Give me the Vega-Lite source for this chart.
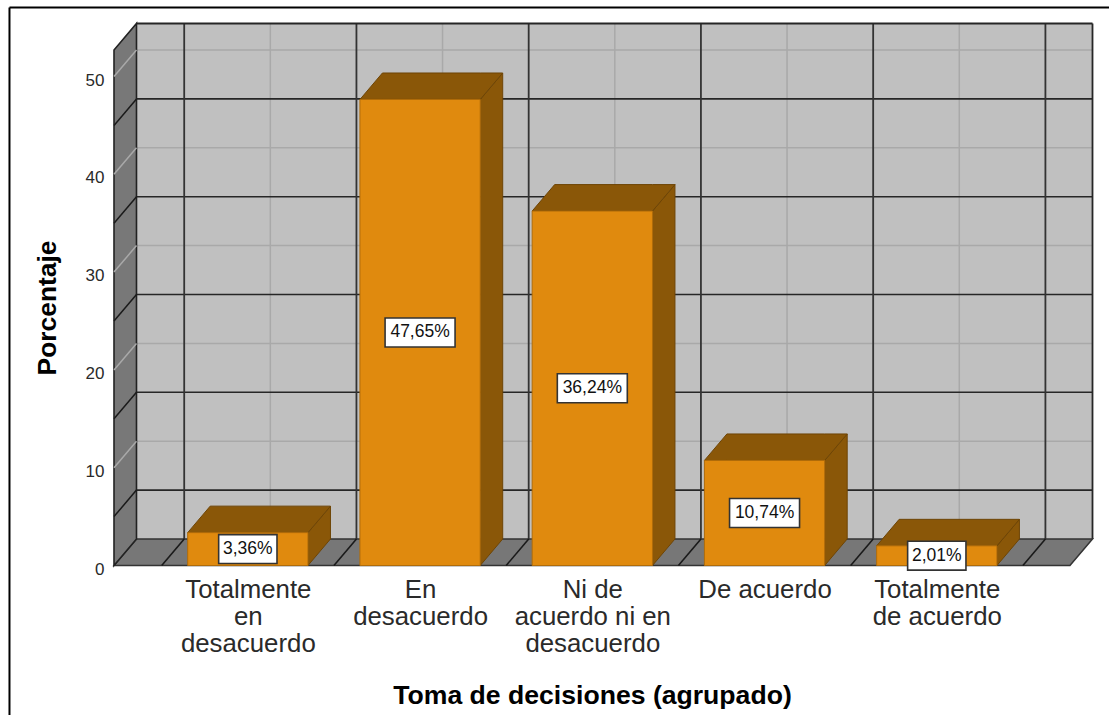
{
"$schema":"https://vega.github.io/schema/vega-lite/v6.json",
"width":978.5,"height":542,
"autosize":{"type":"none"},
"padding":{"left":114,"top":23.5,"right":16.5,"bottom":149.5},
"background":"white",
"config":{"view":{"stroke":null},"font":"Liberation Sans"},
"datasets":{
 "barras":[
  {"categoria":"Totalmente en desacuerdo","orden":0,"porcentaje":3.36},
  {"categoria":"En desacuerdo","orden":1,"porcentaje":47.65},
  {"categoria":"Ni de acuerdo ni en desacuerdo","orden":2,"porcentaje":36.24},
  {"categoria":"De acuerdo","orden":3,"porcentaje":10.74},
  {"categoria":"Totalmente de acuerdo","orden":4,"porcentaje":2.01}
 ],
 "niveles":[{"n":5,"k":"m"},{"n":10,"k":"p"},{"n":15,"k":"m"},{"n":20,"k":"p"},{"n":25,"k":"m"},{"n":30,"k":"p"},{"n":35,"k":"m"},{"n":40,"k":"p"},{"n":45,"k":"m"},{"n":50,"k":"p"}],
 "cortes":[{"c":-0.5},{"c":0.5},{"c":1.5},{"c":2.5},{"c":3.5},{"c":4.5}],
 "centros":[{"c":0},{"c":1},{"c":2},{"c":3},{"c":4}],
 "uno":[{"p":0}],
 "dos":[{"p":0},{"p":1}],
 "cuatro":[{"p":0},{"p":1},{"p":2},{"p":3}]
},
"layer":[
 {"data":{"name":"uno"},"mark":{"type":"rect","fill":"#c0c0c0"},
  "encoding":{
   "x":{"datum":-0.6464,"type":"quantitative","scale":{"domain":[-0.777,4.904],"nice":false,"zero":false},
    "axis":{"values":[0,1,2,3,4],"grid":false,"domain":false,"ticks":false,"labelFontSize":25.8,"labelColor":"#2a2a2a","labelPadding":12,"labelLineHeight":27,"labelOverlap":false,"labelFlush":false,"labelBound":false,"labelBaseline":"top",
     "labelExpr":"[['Totalmente','en','desacuerdo'],['En','desacuerdo'],['Ni de','acuerdo ni en','desacuerdo'],['De acuerdo'],['Totalmente','de acuerdo']][datum.value]",
     "title":"Toma de decisiones (agrupado)","titleFontSize":26.6,"titleFontWeight":"bold","titleColor":"#000000","titleX":478,"titleY":130,"titleBaseline":"middle","titleAlign":"center"}},
   "x2":{"datum":4.904},
   "y":{"datum":2.71,"type":"quantitative","scale":{"domain":[0,55.42],"nice":false,"zero":false},
    "axis":{"values":[0,10,20,30,40,50],"grid":false,"domain":false,"ticks":false,"labelFontSize":17,"labelColor":"#2a2a2a","labelPadding":10,"labelOffset":3.5,
     "title":"Porcentaje","titleFontSize":26.4,"titleFontWeight":"bold","titleColor":"#000000","titleX":-67,"titleY":284,"titleBaseline":"middle","titleAlign":"center","titleAngle":-90}},
   "y2":{"datum":55.42}
  }},
 {"data":{"name":"niveles"},"transform":[{"filter":"datum.k=='p'"},{"calculate":"datum.n+2.71","as":"yb"}],
  "mark":{"type":"rule","stroke":"#a9a9a9","strokeWidth":1.5},
  "encoding":{"x":{"datum":-0.6464,"type":"quantitative"},"x2":{"datum":4.904},"y":{"field":"yb","type":"quantitative"}}},
 {"data":{"name":"centros"},"transform":[{"calculate":"datum.c+0.1306","as":"xb"}],
  "mark":{"type":"rule","stroke":"#a9a9a9","strokeWidth":1.5},
  "encoding":{"x":{"field":"xb","type":"quantitative"},"y":{"datum":2.71,"type":"quantitative"},"y2":{"datum":55.42}}},
 {"data":{"name":"niveles"},"transform":[{"filter":"datum.k=='m'"},{"calculate":"datum.n+2.71","as":"yb"}],
  "mark":{"type":"rule","stroke":"#262626","strokeWidth":1.6},
  "encoding":{"x":{"datum":-0.6464,"type":"quantitative"},"x2":{"datum":4.904},"y":{"field":"yb","type":"quantitative"}}},
 {"data":{"name":"cortes"},"transform":[{"calculate":"datum.c+0.1306","as":"xb"}],
  "mark":{"type":"rule","stroke":"#333333","strokeWidth":1.8},
  "encoding":{"x":{"field":"xb","type":"quantitative"},"y":{"datum":2.71,"type":"quantitative"},"y2":{"datum":55.42}}},
 {"data":{"name":"uno"},"mark":{"type":"rule","stroke":"#262626","strokeWidth":1.8},
  "encoding":{"x":{"datum":-0.6464,"type":"quantitative"},"x2":{"datum":4.904},"y":{"datum":55.42,"type":"quantitative"}}},
 {"data":{"name":"uno"},"mark":{"type":"rule","stroke":"#262626","strokeWidth":1.8},
  "encoding":{"x":{"datum":4.904,"type":"quantitative"},"y":{"datum":2.71,"type":"quantitative"},"y2":{"datum":55.42}}},
 {"data":{"name":"cuatro"},"transform":[
   {"calculate":"[-0.777,-0.6464,4.773,4.904][datum.p]","as":"xa"},
   {"calculate":"[0,2.71,2.71,2.71][datum.p]","as":"ya"},
   {"calculate":"[0,0,0,2.71][datum.p]","as":"yb"}],
  "mark":{"type":"area","fill":"#777777","stroke":"#333333","strokeWidth":1.5},
  "encoding":{"x":{"field":"xa","type":"quantitative"},"y":{"field":"ya","type":"quantitative"},"y2":{"field":"yb"}}},
 {"data":{"name":"cortes"},"transform":[{"calculate":"datum.c+0.1306","as":"xb"}],
  "mark":{"type":"rule","stroke":"#1a1a1a","strokeWidth":1.6},
  "encoding":{"x":{"field":"c","type":"quantitative"},"x2":{"field":"xb"},"y":{"datum":0,"type":"quantitative"},"y2":{"datum":2.71}}},
 {"data":{"name":"dos"},"transform":[
   {"calculate":"-0.777+datum.p*0.1306","as":"xa"},
   {"calculate":"datum.p*2.71","as":"ya"},
   {"calculate":"52.71+datum.p*2.71","as":"yb"}],
  "mark":{"type":"area","fill":"#787878","stroke":"#222222","strokeWidth":1.6},
  "encoding":{"x":{"field":"xa","type":"quantitative"},"y":{"field":"ya","type":"quantitative"},"y2":{"field":"yb"}}},
 {"data":{"name":"niveles"},"transform":[{"calculate":"datum.n+2.71","as":"yb"},{"calculate":"-0.777","as":"xa"},{"calculate":"-0.6464","as":"xb"}],
  "mark":{"type":"rule","strokeWidth":1.5},
  "encoding":{"x":{"field":"xa","type":"quantitative"},"x2":{"field":"xb"},"y":{"field":"n","type":"quantitative"},"y2":{"field":"yb"},
   "color":{"field":"k","type":"nominal","scale":{"domain":["m","p"],"range":["#1a1a1a","#a9a9a9"]},"legend":null}}},
 {"data":{"name":"barras"},"transform":[
   {"calculate":"[0,1]","as":"p"},{"flatten":["p"]},
   {"calculate":"datum.orden+0.3492+datum.p*0.1306","as":"xa"},
   {"calculate":"datum.porcentaje+datum.p*2.71","as":"ya"},
   {"calculate":"datum.p*2.71","as":"yb"}],
  "mark":{"type":"area","fill":"#8a5708","stroke":"#6e4506","strokeWidth":1},
  "encoding":{"detail":{"field":"orden"},"x":{"field":"xa","type":"quantitative"},"y":{"field":"ya","type":"quantitative"},"y2":{"field":"yb"}}},
 {"data":{"name":"barras"},"transform":[
   {"calculate":"[0,1,2,3]","as":"p"},{"flatten":["p"]},
   {"calculate":"datum.orden+[-0.3492,-0.2186,0.3492,0.4798][datum.p]","as":"xa"},
   {"calculate":"datum.porcentaje+[0,2.71,2.71,2.71][datum.p]","as":"ya"},
   {"calculate":"datum.porcentaje+[0,0,0,2.71][datum.p]","as":"yb"}],
  "mark":{"type":"area","fill":"#8a5708","stroke":"#6e4506","strokeWidth":1},
  "encoding":{"detail":{"field":"orden"},"x":{"field":"xa","type":"quantitative"},"y":{"field":"ya","type":"quantitative"},"y2":{"field":"yb"}}},
 {"data":{"name":"barras"},"transform":[
   {"calculate":"datum.orden-0.3492","as":"xa"},{"calculate":"datum.orden+0.3492","as":"xb"}],
  "mark":{"type":"rect","fill":"#e08a0e","stroke":"#b06c0a","strokeWidth":1},
  "encoding":{"x":{"field":"xa","type":"quantitative"},"x2":{"field":"xb"},"y":{"field":"porcentaje","type":"quantitative"},"y2":{"datum":0}}},
 {"data":{"name":"barras"},"transform":[
   {"calculate":"replace(format(datum.porcentaje,'.2f'),'.',',')+'%'","as":"etiqueta"},
   {"calculate":"length(datum.etiqueta)*0.03386","as":"w"},
   {"calculate":"datum.orden-datum.w","as":"xa"},{"calculate":"datum.orden+datum.w","as":"xb"},
   {"calculate":"datum.porcentaje/2-1.48","as":"ya"},{"calculate":"datum.porcentaje/2+1.48","as":"yb"}],
  "mark":{"type":"rect","fill":"#ffffff","stroke":"#333333","strokeWidth":1.6},
  "encoding":{"x":{"field":"xa","type":"quantitative"},"x2":{"field":"xb"},"y":{"field":"ya","type":"quantitative"},"y2":{"field":"yb"}}},
 {"data":{"name":"barras"},"transform":[
   {"calculate":"replace(format(datum.porcentaje,'.2f'),'.',',')+'%'","as":"etiqueta"},
   {"calculate":"datum.porcentaje/2","as":"ym"}],
  "mark":{"type":"text","fontSize":17.5,"color":"#111111","align":"center","baseline":"middle"},
  "encoding":{"x":{"field":"orden","type":"quantitative"},"y":{"field":"ym","type":"quantitative"},"text":{"field":"etiqueta"}}},
 {"data":{"name":"uno"},"mark":{"type":"rule","stroke":"#000000","strokeWidth":2,"clip":false},
  "encoding":{"x":{"datum":-1.3838,"type":"quantitative"},"x2":{"datum":5.0},"y":{"datum":57.06,"type":"quantitative"}}},
 {"data":{"name":"uno"},"mark":{"type":"rule","stroke":"#000000","strokeWidth":2,"clip":false},
  "encoding":{"x":{"datum":-1.3838,"type":"quantitative"},"y":{"datum":57.06,"type":"quantitative"},"y2":{"datum":-15.4}}}
]
}
